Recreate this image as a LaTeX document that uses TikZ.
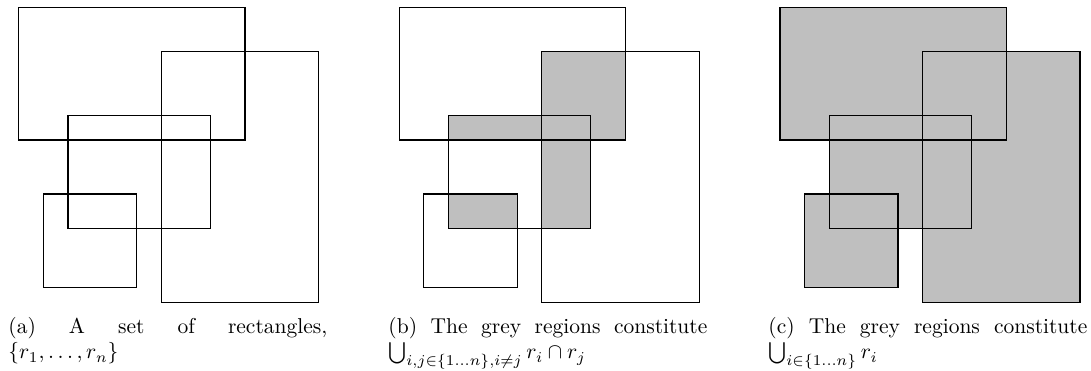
\documentclass[tikz,border=0pt]{standalone}
\begin{document}
\begin{tikzpicture}[x=0.465pt,y=-0.465pt,
  rectline/.style={draw=black,line width=0.55pt},
  greyfill/.style={fill=black!25},
  caption/.style={anchor=base west,inner sep=0pt,text width=148.3pt,align=justify,font=\normalsize}]
\useasboundingbox (0,0) rectangle (1091,370);
% panel (a)
\begin{scope}
  \draw[rectline] (18.7,7.3) rectangle (245,140);
  \draw[rectline] (161.3,51.7) rectangle (318.7,302.7);
  \draw[rectline] (68,115.7) rectangle (210.3,228.7);
  \draw[rectline] (43.3,194) rectangle (136.7,287.7);
\end{scope}
% panel (b)
\begin{scope}[xshift=380.6*0.465pt]
  \fill[greyfill] (161.3,51.7) rectangle (245,140);
  \fill[greyfill] (68,115.7) rectangle (210.3,140);
  \fill[greyfill] (161.3,115.7) rectangle (210.3,228.7);
  \fill[greyfill] (68,194) rectangle (136.7,228.7);
  \draw[rectline] (18.7,7.3) rectangle (245,140);
  \draw[rectline] (161.3,51.7) rectangle (318.7,302.7);
  \draw[rectline] (68,115.7) rectangle (210.3,228.7);
  \draw[rectline] (43.3,194) rectangle (136.7,287.7);
\end{scope}
% panel (c)
\begin{scope}[xshift=761.3*0.465pt]
  \fill[greyfill] (18.7,7.3) rectangle (245,140);
  \fill[greyfill] (161.3,51.7) rectangle (318.7,302.7);
  \fill[greyfill] (68,115.7) rectangle (210.3,228.7);
  \fill[greyfill] (43.3,194) rectangle (136.7,287.7);
  \draw[rectline] (18.7,7.3) rectangle (245,140);
  \draw[rectline] (161.3,51.7) rectangle (318.7,302.7);
  \draw[rectline] (68,115.7) rectangle (210.3,228.7);
  \draw[rectline] (43.3,194) rectangle (136.7,287.7);
\end{scope}
% captions
\node[caption] (capa) at (8,333) {(a) A set of rectangles, $\{r_1,\dots,r_n\}$};
\node[caption] (capb) at (388,333) {(b) The grey regions constitute $\bigcup_{i,j\in\{1\dots n\},i\neq j} r_i\cap r_j$};
\node[caption] (capc) at (768,333) {(c) The grey regions constitute $\bigcup_{i\in\{1\dots n\}} r_i$};
\end{tikzpicture}
\end{document}
